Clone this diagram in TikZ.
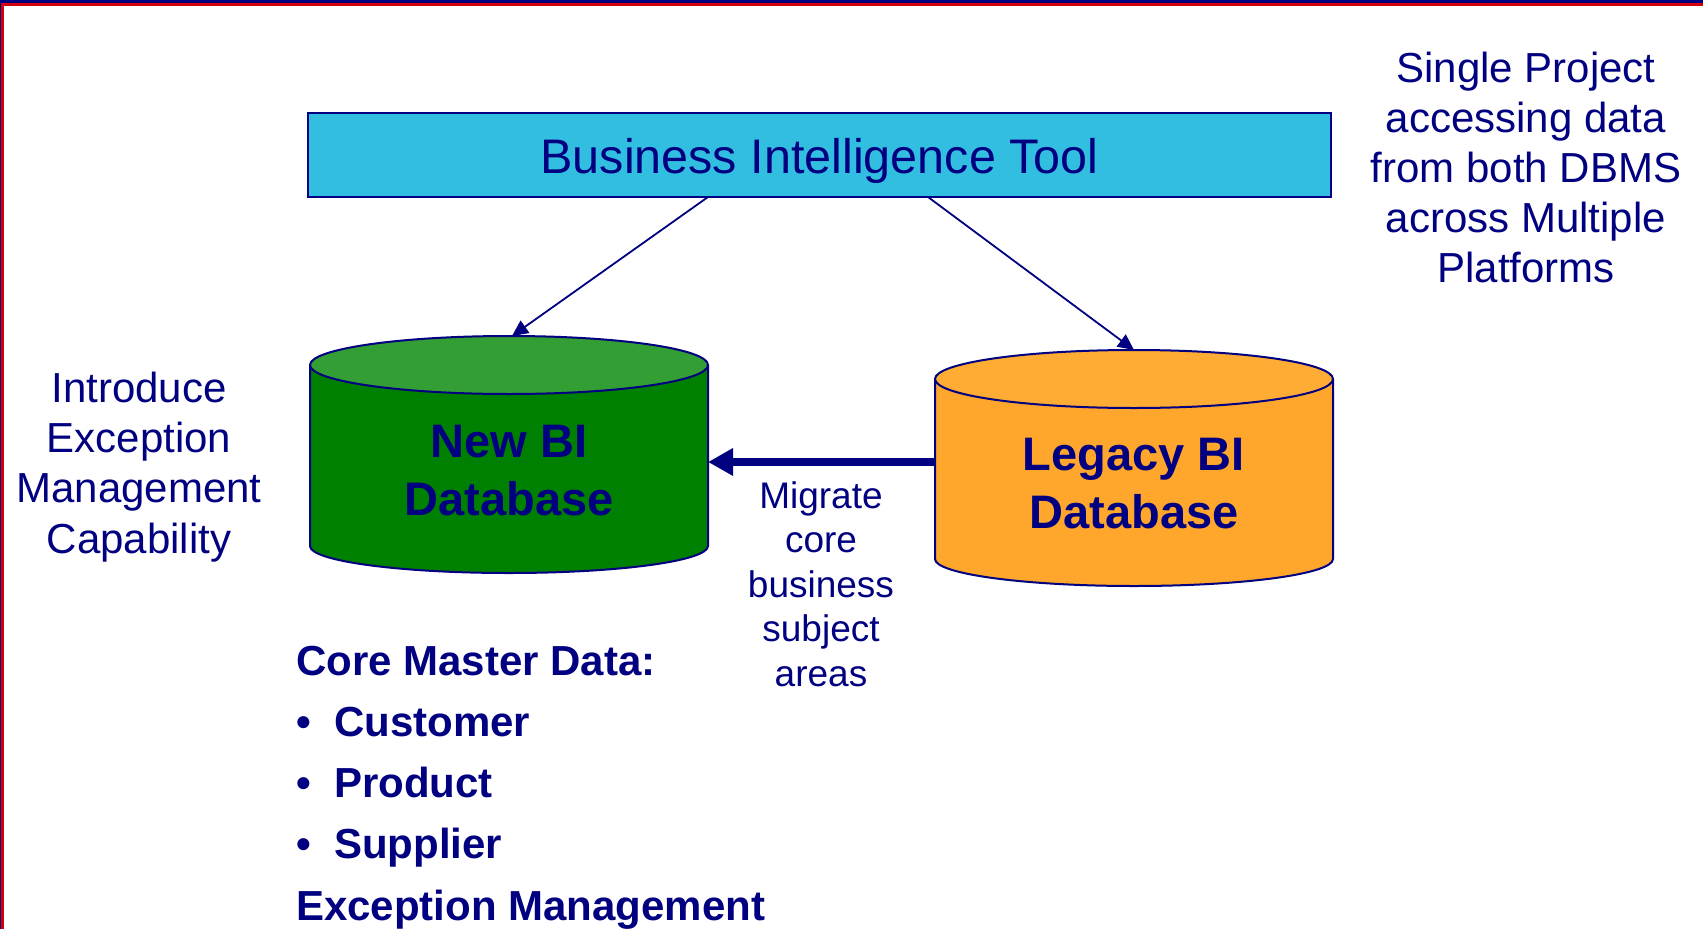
\documentclass[tikz,border=0pt]{standalone}
\usepackage{fontspec}
\setmainfont{Liberation Sans}
\usetikzlibrary{arrows.meta}
\definecolor{navy}{RGB}{0,0,128}
\definecolor{framered}{RGB}{210,0,10}
\definecolor{boxcyan}{RGB}{50,190,224}
\definecolor{greentop}{RGB}{51,158,51}
\definecolor{greenbody}{RGB}{0,128,0}
\definecolor{orangetop}{RGB}{255,172,52}
\definecolor{orangebody}{RGB}{255,166,44}
\tikzset{
  txt/.style={text=navy, inner sep=0pt, align=center, anchor=base},
  thinarrow/.style={draw=navy, line width=1.8pt, -{Triangle[length=16pt,width=15pt]}},
  thickarrow/.style={draw=navy, line width=8.5pt, -{Triangle[length=25pt,width=26pt]}},
  dbline/.style={draw=navy, line width=2pt},
}
\begin{document}
\begin{tikzpicture}[x=1pt,y=-1pt]
\useasboundingbox (0,0) rectangle (1703,929);
\fill[white] (0,0) rectangle (1703,929);
% frame lines
\fill[navy] (0,0) rectangle (1703,3);
\fill[framered] (0,3) rectangle (1703,6);
\fill[navy] (0,0) rectangle (1,929);
\fill[framered] (1,3) rectangle (3.5,929);

% Business Intelligence Tool box
\node[draw=navy, fill=boxcyan, line width=1.5pt, minimum width=1023pt, minimum height=84pt, inner sep=0pt] (bit) at (819.5,155) {};
\node[txt, font=\fontsize{48.5}{58}\selectfont] (bitlabel) at (819.5,173) {Business Intelligence Tool};

% New BI Database cylinder (green)
\path[fill=greenbody, dbline] (310,365) -- (310,546) arc[start angle=180, end angle=360, x radius=199pt, y radius=27pt] -- (708,365);
\filldraw[fill=greentop, dbline] (509,365) ellipse[x radius=199pt, y radius=29pt];
\node[txt, font=\bfseries\fontsize{47}{58}\selectfont] (newdb) at (509,515) {New BI\\Database};

% Legacy BI Database cylinder (orange)
\path[fill=orangebody, dbline] (935,379) -- (935,559) arc[start angle=180, end angle=360, x radius=199pt, y radius=27pt] -- (1333,379);
\filldraw[fill=orangetop, dbline] (1134,379) ellipse[x radius=199pt, y radius=29pt];
\node[txt, font=\bfseries\fontsize{47}{58}\selectfont] (legdb) at (1134,528) {Legacy BI\\Database};

% connector end points
\coordinate (bitA) at (708,197);
\coordinate (bitB) at (928,197);
\coordinate (newtop) at (512,336);
\coordinate (legtop) at (1134,350);
\coordinate (legleft) at (935,462);
\coordinate (newright) at (708,462);

\draw[thinarrow] (bitA) -- (newtop);
\draw[thinarrow] (bitB) -- (legtop);
\draw[thickarrow] (legleft) -- (newright);

% side texts
\node[txt, font=\fontsize{37}{44.5}\selectfont] (migrate) at (821,686) {Migrate\\core\\business\\subject\\areas};
\node[txt, font=\fontsize{42}{50.3}\selectfont] (intro) at (139,553) {Introduce\\Exception\\Management\\Capability};
\node[txt, font=\fontsize{42}{50}\selectfont] (single) at (1526,282) {Single Project\\accessing data\\from both DBMS\\across Multiple\\Platforms};

% core master data list
\node[txt, align=left, anchor=base west, font=\bfseries\fontsize{42}{61.2}\selectfont] (core) at (296,920)
  {Core Master Data:\\\makebox[38pt][l]{•}Customer\\\makebox[38pt][l]{•}Product\\\makebox[38pt][l]{•}Supplier\\Exception Management};
\end{tikzpicture}
\end{document}
